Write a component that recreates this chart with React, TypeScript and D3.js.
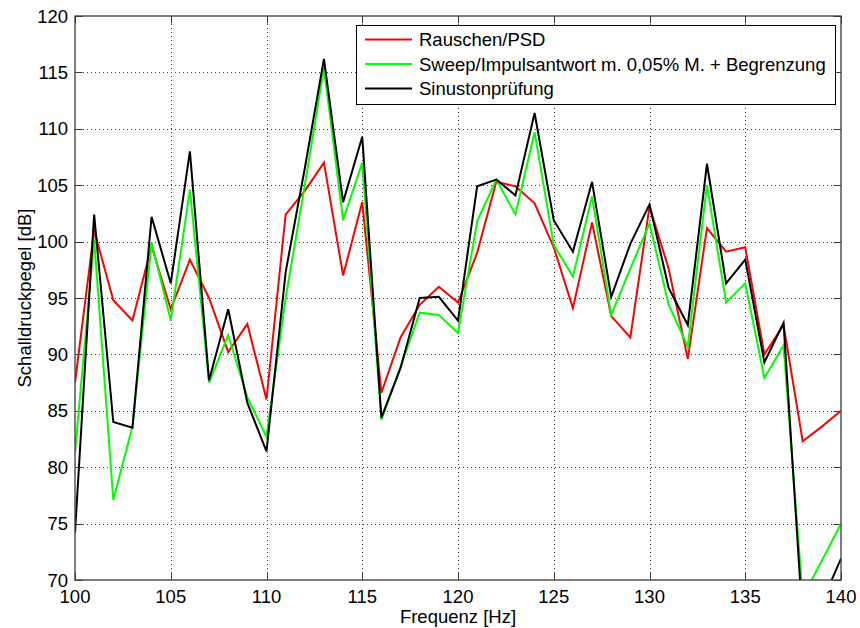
import React from "react";
import * as d3 from "d3";

const freqs: number[] = d3.range(100, 141);

const rauschen: number[] = [
  87.5, 101.0, 94.8, 93.0, 99.6, 94.0, 98.4, 95.0, 90.2, 92.7,
  86.0, 102.4, 104.5, 107.0, 97.0, 103.5, 86.6, 91.5, 94.4, 96.0,
  94.6, 99.0, 105.3, 104.9, 103.4, 99.5, 94.1, 101.7, 93.4, 91.5,
  103.1, 97.6, 89.6, 101.2, 99.1, 99.5, 90.0, 92.6, 82.3, 83.6, 85.0,
];

const sweep: number[] = [
  81.3, 100.2, 77.1, 83.6, 99.9, 93.0, 104.6, 87.5, 91.7, 86.2,
  82.7, 95.0, 105.0, 115.4, 101.9, 107.0, 84.2, 88.9, 93.7, 93.5,
  91.9, 101.8, 105.5, 102.4, 109.7, 99.7, 96.9, 104.0, 93.5, 97.6,
  101.6, 94.4, 90.7, 105.0, 94.6, 96.3, 87.9, 90.8, 68.5, 71.7, 75.0,
];

const sinus: number[] = [
  74.2, 102.4, 84.0, 83.5, 102.2, 96.3, 108.0, 87.7, 94.0, 85.7,
  81.4, 97.3, 106.5, 116.2, 103.5, 109.3, 84.4, 88.8, 95.0, 95.1,
  93.0, 104.9, 105.5, 104.1, 111.4, 101.9, 99.1, 105.3, 95.1, 99.8,
  103.3, 95.9, 92.6, 106.9, 96.3, 98.4, 89.3, 92.8, 66.3, 68.0, 71.9,
];

const xTicks: number[] = [100, 105, 110, 115, 120, 125, 130, 135, 140];
const yTicks: number[] = [70, 75, 80, 85, 90, 95, 100, 105, 110, 115, 120];

const seriesNames: string[] = [
  "Rauschen/PSD",
  "Sweep/Impulsantwort m. 0,05% M. + Begrenzung",
  "Sinustonprüfung",
];
const seriesColors: string[] = ["#ff0000", "#00ff00", "#000000"];
const seriesData: number[][] = [rauschen, sweep, sinus];

const W = 860;
const H = 628;
const M = { left: 75, right: 19, top: 16, bottom: 48 };
const FONT = "'Liberation Sans', Arial, Helvetica, sans-serif";
const FS = 18.5;

export default function App() {
  const x = d3.scaleLinear().domain([100, 140]).range([M.left, W - M.right]);
  const y = d3.scaleLinear().domain([70, 120]).range([H - M.bottom, M.top]);
  const line = d3
    .line<number>()
    .x((_, i) => x(freqs[i]))
    .y((d) => y(d));

  const x0 = x(100);
  const x1 = x(140);
  const y0 = y(70);
  const y1 = y(120);
  const tick = 7.5;
  const axisColor = "#3a3a3a";

  const lg = { x: 356, y: 25, w: 479, h: 79 };
  const rowY = [39.5, 64, 88.5];

  return (
    <svg
      width={W}
      height={H}
      style={{ position: "absolute", left: 0, top: 0, background: "#fff" }}
      fontFamily={FONT}
    >
      <defs>
        <clipPath id="plotclip">
          <rect x={x0} y={y1} width={x1 - x0} height={y0 - y1} />
        </clipPath>
      </defs>
      <rect x={0} y={0} width={W} height={H} fill="#fff" />
      {/* grid */}
      <g stroke="#444" strokeWidth={1} strokeDasharray="1 3">
        {xTicks.slice(1, -1).map((t) => (
          <line key={"gx" + t} x1={Math.round(x(t)) + 0.5} x2={Math.round(x(t)) + 0.5} y1={y1} y2={y0} />
        ))}
        {yTicks.slice(1, -1).map((t) => (
          <line key={"gy" + t} x1={x0} x2={x1} y1={Math.round(y(t)) + 0.5} y2={Math.round(y(t)) + 0.5} />
        ))}
      </g>
      {/* ticks */}
      <g stroke={axisColor} strokeWidth={1}>
        {xTicks.map((t) => (
          <g key={"tx" + t}>
            <line x1={Math.round(x(t)) + 0.5} x2={Math.round(x(t)) + 0.5} y1={y0} y2={y0 - tick} />
            <line x1={Math.round(x(t)) + 0.5} x2={Math.round(x(t)) + 0.5} y1={y1} y2={y1 + tick} />
          </g>
        ))}
        {yTicks.map((t) => (
          <g key={"ty" + t}>
            <line x1={x0} x2={x0 + tick} y1={Math.round(y(t)) + 0.5} y2={Math.round(y(t)) + 0.5} />
            <line x1={x1} x2={x1 - tick} y1={Math.round(y(t)) + 0.5} y2={Math.round(y(t)) + 0.5} />
          </g>
        ))}
      </g>
      {/* data */}
      <g clipPath="url(#plotclip)" fill="none" strokeWidth={2} strokeLinejoin="miter">
        {seriesData.map((s, i) => (
          <path key={"s" + i} d={line(s) || ""} stroke={seriesColors[i]} />
        ))}
      </g>
      {/* box */}
      <rect x={x0} y={y1} width={x1 - x0} height={y0 - y1} fill="none" stroke={axisColor} strokeWidth={1.3} />
      {/* tick labels */}
      <g fontSize={FS} fill="#000">
        {xTicks.map((t) => (
          <text key={"lx" + t} x={x(t)} y={y0 + 23} textAnchor="middle">
            {t}
          </text>
        ))}
        {yTicks.map((t) => (
          <text key={"ly" + t} x={x0 - 7} y={y(t) + 6.5} textAnchor="end">
            {t}
          </text>
        ))}
      </g>
      {/* axis labels */}
      <text x={(x0 + x1) / 2} y={H - 5} textAnchor="middle" fontSize={FS} fill="#000">
        Frequenz [Hz]
      </text>
      <text
        transform={`translate(31, ${(y0 + y1) / 2}) rotate(-90)`}
        textAnchor="middle"
        fontSize={FS}
        fill="#000"
      >
        Schalldruckpegel [dB]
      </text>
      {/* legend */}
      <g>
        <rect x={lg.x + 0.5} y={lg.y + 0.5} width={lg.w} height={lg.h} fill="#fff" stroke="#000" strokeWidth={1} />
        {seriesNames.map((n, i) => (
          <g key={"lg" + i}>
            <line x1={365} x2={412} y1={rowY[i]} y2={rowY[i]} stroke={seriesColors[i]} strokeWidth={2} />
            <text x={419} y={rowY[i] + 6.5} fontSize={FS} fill="#000">
              {n}
            </text>
          </g>
        ))}
      </g>
    </svg>
  );
}
